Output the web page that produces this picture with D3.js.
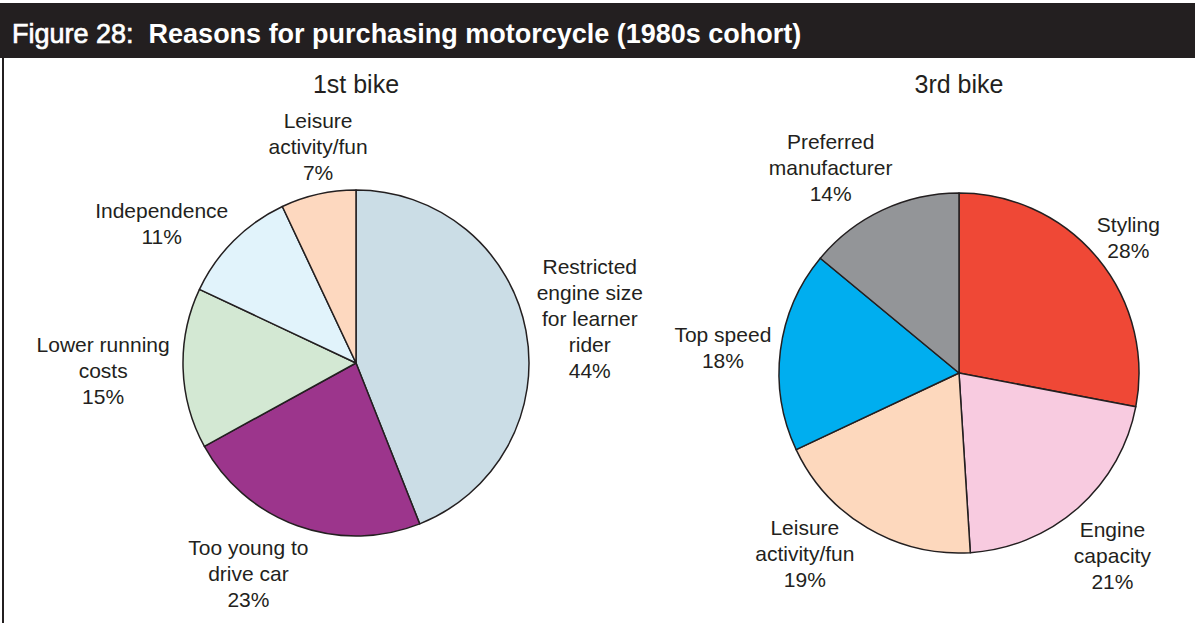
<!DOCTYPE html>
<meta charset="utf-8">
<style>
body { margin: 0; background: #fff; font-family: 'Liberation Sans', Arial, sans-serif; }
.hed { font-weight: bold; font-size: 27px; fill: #fff; white-space: pre; }
.hed .fig { font-weight: normal; stroke: #fff; stroke-width: 0.7; }
.sub { font-size: 25px; fill: #231f20; }
.lbl { font-size: 21px; fill: #231f20; }
.slice { stroke: #231f20; stroke-width: 1.5; stroke-linejoin: round; }
</style>
<body>
<script src="https://cdnjs.cloudflare.com/ajax/libs/d3/7.8.5/d3.min.js"></script>
<script>
// 1st bike
var bike1Labels = [["Restricted", "engine size", "for learner", "rider"], ["Too young to", "drive car"], ["Lower running", "costs"], ["Independence"], ["Leisure", "activity/fun"]];
var bike1Values = [44, 23, 15, 11, 7];
var bike1Colors = ["#cbdde6", "#9c358c", "#d3e8d3", "#e1f3fb", "#fdd8bf"];

// 3rd bike
var bike3Labels = [["Styling"], ["Engine", "capacity"], ["Leisure", "activity/fun"], ["Top speed"], ["Preferred", "manufacturer"]];
var bike3Values = [28, 21, 19, 18, 14];
var bike3Colors = ["#ef4836", "#f8cbe0", "#fdd8bd", "#00aeef", "#939598"];

var W = 1195, H = 623;
var svg = d3.select("body").append("svg").attr("width", W).attr("height", H);

// header bar + left rule
svg.append("rect").attr("x", 0).attr("y", 3).attr("width", W).attr("height", 55).attr("fill", "#231f20");
var hed = svg.append("text").attr("class", "hed").attr("x", 12).attr("y", 43);
hed.append("tspan").attr("class", "fig").text("Figure 28:\u00a0 ");
hed.append("tspan").text("Reasons for purchasing motorcycle (1980s cohort)");
svg.append("line").attr("x1", 3).attr("x2", 3).attr("y1", 58).attr("y2", H)
  .attr("stroke", "#231f20").attr("stroke-width", 2);

// label nudges (px) so text sits where the original puts it
var nudge1 = [[0, 0], [-27, -13], [-15, 0], [-26, 29], [14, 16]];
var nudge3 = [[-14, 16], [-4, 4], [-33, -24], [0, 4], [-27, 10]];

function drawPie(title, labels, values, colors, nudges, cx, cy, r) {
  var g = svg.append("g").attr("transform", "translate(" + cx + "," + cy + ")");
  var pie = d3.pie().sort(null).value(function(d) { return d; });
  var arcs = pie(values);
  var arc = d3.arc().innerRadius(0).outerRadius(r);
  var labelArc = d3.arc().innerRadius(238).outerRadius(238);

  g.append("text").attr("class", "sub").attr("text-anchor", "middle")
    .attr("x", 0).attr("y", -cy + 93).text(title);

  g.selectAll("path").data(arcs).enter().append("path")
    .attr("class", "slice")
    .attr("d", arc)
    .attr("fill", function(d, i) { return colors[i]; });

  g.selectAll("text.lbl").data(arcs).enter().append("text")
    .attr("class", "lbl")
    .attr("text-anchor", "middle")
    .each(function(d, i) {
      var c = labelArc.centroid(d);
      var lines = labels[i].concat([values[i] + "%"]);
      var x = c[0] + nudges[i][0];
      var y0 = c[1] + nudges[i][1] - (lines.length - 1) * 26 / 2 + 7.5;
      var t = d3.select(this);
      lines.forEach(function(s, k) {
        t.append("tspan").attr("x", x).attr("y", y0 + k * 26).text(s);
      });
    });
}

drawPie("1st bike", bike1Labels, bike1Values, bike1Colors, nudge1, 356, 363, 173);
drawPie("3rd bike", bike3Labels, bike3Values, bike3Colors, nudge3, 959, 373, 180);
</script>
</body>
